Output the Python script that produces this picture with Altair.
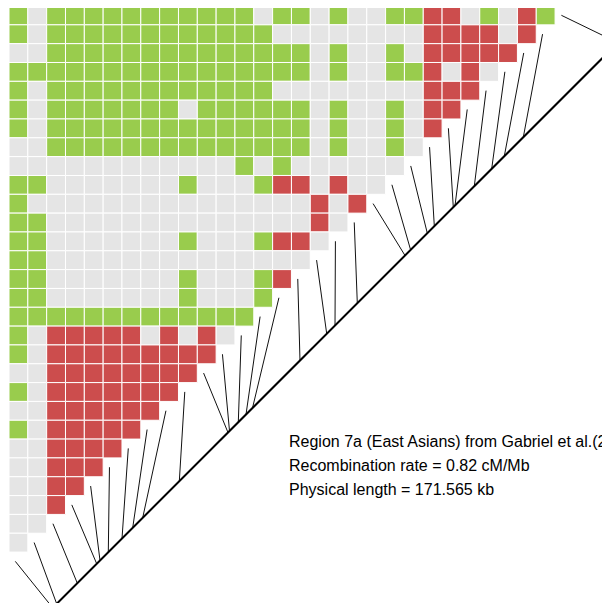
import altair as alt
import pandas as pd

# LD category per cell (G = strong LD / green, R = recombination / red, N = uninformative / grey)
ld_rows = [
    "GNGGGGGGGGGGGNGGNGNNGGRRNGNRG",
    "GNGGGGGGGGGGGGNNNNNNNNRRRRNR",
    "NNGGGGGGGGGGGGGGNGNNGNRRRRR",
    "GGGGGGGGGGGGGGGGNGNNGGRNRN",
    "GNGGGGGGGGGGGGNNNNNNNNRRR",
    "GNGGGGGGGNGGGGGGNGNNGNRR",
    "GNGGGGGGGGGGGGGGNGNNGNR",
    "NNGGGGGGGGGGGGGGNGNNGN",
    "NNNNNNNNNNNNGNGNNNNNN",
    "GGNNNNNNNGNNNGRRNRNN",
    "GNNNNNNNNNNNNNNNRNR",
    "GGNNNNNNNNNNNNNNRN",
    "GGNNNNNNNGNNNGRRN",
    "GGNNNNNNNNNNNNNN",
    "GGNNNNNNNGNNNGR",
    "GGNNNNNNNGNNNG",
    "GGGGGGGGGGGGG",
    "GNRRRRRNRNRN",
    "GNRRRRRRRRR",
    "NNRRRRRRRR",
    "GNRRRRRRR",
    "NNRRRRRR",
    "GNRRRRR",
    "NNRRRR",
    "NNRRR",
    "NNRR",
    "NNR",
    "NN",
    "N",
]

# physical SNP positions (kb) along the region
snp_pos_kb = [0.0, 1.21, 7.47, 13.36, 14.36, 16.88, 21.04, 24.29, 27.32, 38.44,
              53.22, 53.68, 56.35, 58.69, 60.66, 75.08, 83.19, 85.71, 92.48, 106.96,
              108.66, 113.73, 115.86, 121.62, 122.14, 128.0, 133.28, 137.11, 142.88, 171.565]

info_lines = [
    "Region 7a (East Asians) from Gabriel et al.(2002)",
    "Recombination rate = 0.82 cM/Mb",
    "Physical length = 171.565 kb",
]

cat_names = ["G", "R", "N"]
cat_colors = ["#99CC4D", "#CC4D4D", "#E5E5E5"]

# ---- build tables ----
cells = []
for r, row in enumerate(ld_rows):
    for c, ch in enumerate(row):
        cells.append({"x": c, "x2": c + 1, "y": r, "y2": r + 1, "cls": ch})
cells = pd.DataFrame(cells)

n = len(snp_pos_kb)
unit_per_kb = 0.17492
axis_x0 = 2.321
diag_sum = 34.28
conn = []
for i, p in enumerate(snp_pos_kb):
    ex = axis_x0 + p * unit_per_kb
    conn.append({"x": i + 0.335, "y": (n - 1 - i) + 0.494, "x2": ex, "y2": diag_sum - ex})
conn = pd.DataFrame(conn)

ax_a = axis_x0 + snp_pos_kb[0] * unit_per_kb
ax_b = axis_x0 + snp_pos_kb[-1] * unit_per_kb
axis_df = pd.DataFrame([{"x": ax_a, "y": diag_sum - ax_a, "x2": ax_b, "y2": diag_sum - ax_b}])

text_df = pd.DataFrame({"label": info_lines, "line": list(range(len(info_lines)))})

W, H = 594, 595
P = 18.83
xs = alt.Scale(domain=[-1 / P, (W - 1) / P], nice=False, zero=False)
ys = alt.Scale(domain=[2 / P, (H + 2) / P], nice=False, zero=False, reverse=True)

rects = alt.Chart(cells).mark_rect(stroke="white", strokeWidth=1).encode(
    x=alt.X("x:Q", scale=xs, axis=None),
    x2="x2:Q",
    y=alt.Y("y:Q", scale=ys, axis=None),
    y2="y2:Q",
    color=alt.Color("cls:N", scale=alt.Scale(domain=cat_names, range=cat_colors), legend=None),
)

connectors = alt.Chart(conn).mark_rule(color="#111111", strokeWidth=1).encode(
    x=alt.X("x:Q", scale=xs, axis=None),
    y=alt.Y("y:Q", scale=ys, axis=None),
    x2="x2:Q",
    y2="y2:Q",
)

axis_line = alt.Chart(axis_df).mark_rule(color="black", strokeWidth=2).encode(
    x=alt.X("x:Q", scale=xs, axis=None),
    y=alt.Y("y:Q", scale=ys, axis=None),
    x2="x2:Q",
    y2="y2:Q",
)

texts = alt.Chart(text_df).mark_text(
    align="left", baseline="alphabetic", font="Liberation Sans", fontSize=16, color="black"
).encode(
    x=alt.value(281),
    y=alt.Y("line:Q", scale=alt.Scale(domain=[0, 2], range=[439, 487], nice=False, zero=False), axis=None),
    text="label:N",
)

chart = alt.layer(rects, connectors, axis_line, texts).resolve_scale(y="independent").properties(
    width=W, height=H, padding=0, autosize=alt.AutoSizeParams(type="none"), background="white"
).configure_view(strokeWidth=0)

chart.save("out.html", embed_options={"renderer": "svg", "actions": False})
